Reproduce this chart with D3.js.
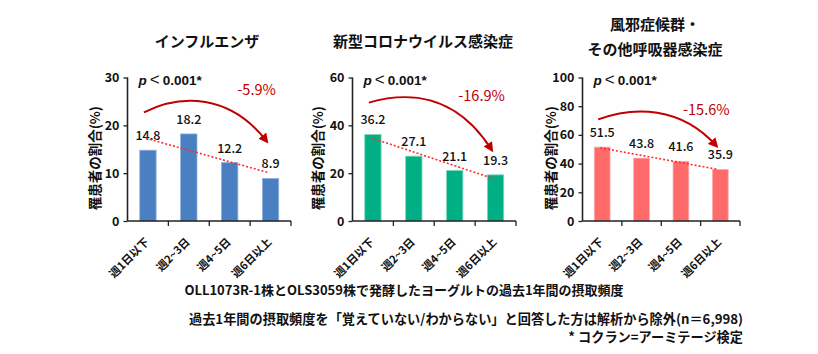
<!DOCTYPE html>
<html>
<head>
<meta charset="utf-8">
<script src="https://cdn.jsdelivr.net/npm/d3@7"></script>
<style>
  body { margin: 0; background: #fff; }
  svg text { font-family: "Noto Sans CJK JP", sans-serif; }
</style>
</head>
<body>
<div id="chart"></div>
<script>
// data
var categories = ["週1日以下", "週2~3日", "週4~5日", "週6日以上"];
var titles = [["インフルエンザ"], ["新型コロナウイルス感染症"], ["風邪症候群・", "その他呼吸器感染症"]];
var influenza = [14.8, 18.2, 12.2, 8.9];
var covid = [36.2, 27.1, 21.1, 19.3];
var coldOther = [51.5, 43.8, 41.6, 35.9];
var yMaxes = [30, 60, 100];
var yTickSteps = [10, 20, 20];
var changes = ["-5.9%", "-16.9%", "-15.6%"];
var trendStart = [17.3, 34.8, 51.0];
var trendEnd = [10.1, 17.7, 35.9];
var yLabel = "罹患者の割合(%)";
var xTitle = "OLL1073R-1株とOLS3059株で発酵したヨーグルトの過去1年間の摂取頻度";
var note1 = "過去1年間の摂取頻度を「覚えていない/わからない」と回答した方は解析から除外(n＝6,998)";
var note2 = "* コクラン=アーミテージ検定";

var width = 818, height = 354;
var yTop = 77.5, yBottom = 221;

// layout per panel
var panels = [
  { values: influenza, color: "#4a7fc2", edge: "#8fb2e0", x0: 127.5, x1: 291, labelX: 95, titleX: 207, titleY: [47],
    arrow: [22.7, 16.7], lift: 14, changeY: 27.4 },
  { values: covid, color: "#00b084", edge: "#7fd8bf", x0: 352.5, x1: 516, labelX: 318, titleX: 423, titleY: [47],
    arrow: [49.5, 29.8], lift: 8, changeY: 52.2 },
  { values: coldOther, color: "#ff6b6b", edge: "#ffaaaa", x0: 582.5, x1: 740, labelX: 551, titleX: 655, titleY: [30, 55],
    arrow: [70.8, 52.4], lift: 10, changeY: 77.6 }
];

var svg = d3.select("#chart").append("svg")
    .attr("width", width)
    .attr("height", height);

var defs = svg.append("defs");
defs.append("marker")
    .attr("id", "head")
    .attr("viewBox", "0 0 10 10")
    .attr("refX", 7).attr("refY", 5)
    .attr("markerWidth", 5).attr("markerHeight", 5)
    .attr("markerUnits", "strokeWidth")
    .attr("orient", "auto")
  .append("path")
    .attr("d", "M0,0 L10,5 L0,10 Z")
    .attr("fill", "#c00000");

panels.forEach(function(p, i) {
    var g = svg.append("g");

    var x = d3.scaleBand()
        .domain(categories)
        .range([p.x0, p.x1])
        .paddingInner(0.6)
        .paddingOuter(0.3);

    var y = d3.scaleLinear()
        .domain([0, yMaxes[i]])
        .range([yBottom, yTop]);

    // title
    titles[i].forEach(function(t, k) {
        g.append("text")
            .attr("x", p.titleX)
            .attr("y", p.titleY[k])
            .attr("text-anchor", "middle")
            .attr("font-size", 15)
            .attr("font-weight", 700)
            .attr("fill", "#111")
            .text(t);
    });

    // bars
    g.selectAll("rect.bar")
        .data(p.values)
        .enter()
        .append("rect")
        .attr("class", "bar")
        .attr("x", function(d, j) { return x(categories[j]); })
        .attr("width", x.bandwidth())
        .attr("y", function(d) { return y(d); })
        .attr("height", function(d) { return yBottom - y(d); })
        .attr("fill", p.color)
        .attr("stroke", p.edge)
        .attr("stroke-width", 0.8);

    // y axis
    var yAxis = d3.axisLeft(y)
        .tickValues(d3.range(0, yMaxes[i] + 0.1, yTickSteps[i]))
        .tickSize(4)
        .tickPadding(4);
    var ya = g.append("g")
        .attr("transform", "translate(" + p.x0 + ",0)")
        .call(yAxis);
    ya.select(".domain").attr("d", "M0," + yTop + "V" + yBottom);

    // x axis with ticks at band edges
    var xa = g.append("g")
        .attr("transform", "translate(0," + yBottom + ")")
        .call(d3.axisBottom(x).tickSize(0).tickSizeOuter(0));
    xa.select(".domain").attr("d", "M" + p.x0 + ",0H" + p.x1);
    var step = x.step();
    var edges = categories.map(function(c) { return x(c) + x.bandwidth() / 2 + step / 2; });
    xa.selectAll("line.edge")
        .data(edges)
        .enter()
        .append("line")
        .attr("class", "edge")
        .attr("x1", function(d) { return d; })
        .attr("x2", function(d) { return d; })
        .attr("y1", 0).attr("y2", 5)
        .attr("stroke", "#222")
        .attr("stroke-width", 1.3);

    [ya, xa].forEach(function(a) {
        a.select(".domain").attr("stroke", "#222").attr("stroke-width", 1.6);
        a.selectAll(".tick line").attr("stroke", "#222").attr("stroke-width", 1.3);
    });
    ya.selectAll(".tick text")
        .attr("font-family", "'Liberation Sans', sans-serif")
        .attr("font-size", 12.5)
        .attr("font-weight", 700)
        .attr("fill", "#111");
    xa.selectAll(".tick text")
        .attr("font-size", 11)
        .attr("font-weight", 700)
        .attr("fill", "#111")
        .attr("text-anchor", "end")
        .attr("x", 0).attr("y", 0)
        .attr("dy", "0.35em")
        .attr("transform", "translate(-1,19) rotate(-45)");

    // y axis label
    g.append("text")
        .attr("transform", "translate(" + p.labelX + "," + ((yTop + yBottom) / 2 + 9) + ") rotate(-90)")
        .attr("text-anchor", "middle")
        .attr("dy", "0.35em")
        .attr("font-size", 13.5)
        .attr("font-weight", 700)
        .attr("fill", "#111")
        .text(yLabel);

    // value labels
    g.selectAll("text.val")
        .data(p.values)
        .enter()
        .append("text")
        .attr("class", "val")
        .attr("x", function(d, j) { return x(categories[j]) + x.bandwidth() / 2; })
        .attr("y", function(d) { return y(d) - 10; })
        .attr("text-anchor", "middle")
        .attr("font-size", 12.5)
        .attr("font-weight", 500)
        .attr("fill", "#111")
        .text(function(d) { return d.toFixed(1); });

    // dotted trend line
    var cx0 = x(categories[0]) + x.bandwidth() / 2;
    var cx3 = x(categories[3]) + x.bandwidth() / 2;
    g.append("line")
        .attr("x1", cx0 - 2).attr("y1", y(trendStart[i]))
        .attr("x2", cx3 - 2).attr("y2", y(trendEnd[i]))
        .attr("stroke", "#ff2b2b")
        .attr("stroke-width", 1.6)
        .attr("stroke-dasharray", "2,2");

    // p value
    var pt = g.append("text")
        .attr("x", p.x0 + 11)
        .attr("y", 85)
        .attr("font-size", 13.5)
        .attr("fill", "#111");
    pt.append("tspan").attr("font-style", "italic").attr("font-weight", 700)
        .attr("font-family", "'Liberation Sans', sans-serif").text("p");
    pt.append("tspan").attr("font-weight", 300).attr("font-size", 17).attr("dx", 3)
        .attr("font-family", "'Liberation Sans', sans-serif").text("<");
    pt.append("tspan").attr("font-weight", 700).attr("dx", 3)
        .attr("font-family", "'Liberation Sans', sans-serif").text("0.001*");

    // curved arrow
    var sx = cx0 - 4, sy = y(p.arrow[0]);
    var ex = cx3 - 4, ey = y(p.arrow[1]);
    var dx = ex - sx;
    var cy = Math.min(sy, ey) - p.lift * 1.33;
    var path = d3.path();
    path.moveTo(sx, sy);
    path.bezierCurveTo(sx + dx * 0.3, cy, sx + dx * 0.7, cy, ex, ey);
    g.append("path")
        .attr("d", path.toString())
        .attr("fill", "none")
        .attr("stroke", "#c00000")
        .attr("stroke-width", 2)
        .attr("marker-end", "url(#head)");

    // change label
    g.append("text")
        .attr("x", cx3 - 14)
        .attr("y", y(p.changeY))
        .attr("dy", "0.35em")
        .attr("text-anchor", "middle")
        .attr("font-family", "'Liberation Sans', sans-serif")
        .attr("font-size", 14.5)
        .attr("fill", "#c00000")
        .text(changes[i]);
});

// bottom texts
svg.append("text")
    .attr("x", 404).attr("y", 295)
    .attr("text-anchor", "middle")
    .attr("font-size", 13)
    .attr("font-weight", 700)
    .attr("fill", "#111")
    .text(xTitle);
svg.append("text")
    .attr("x", 743).attr("y", 324)
    .attr("text-anchor", "end")
    .attr("font-size", 13.2)
    .attr("font-weight", 700)
    .attr("fill", "#111")
    .text(note1);
svg.append("text")
    .attr("x", 743).attr("y", 341.5)
    .attr("text-anchor", "end")
    .attr("font-size", 13.2)
    .attr("font-weight", 700)
    .attr("fill", "#111")
    .text(note2);
</script>
</body>
</html>
